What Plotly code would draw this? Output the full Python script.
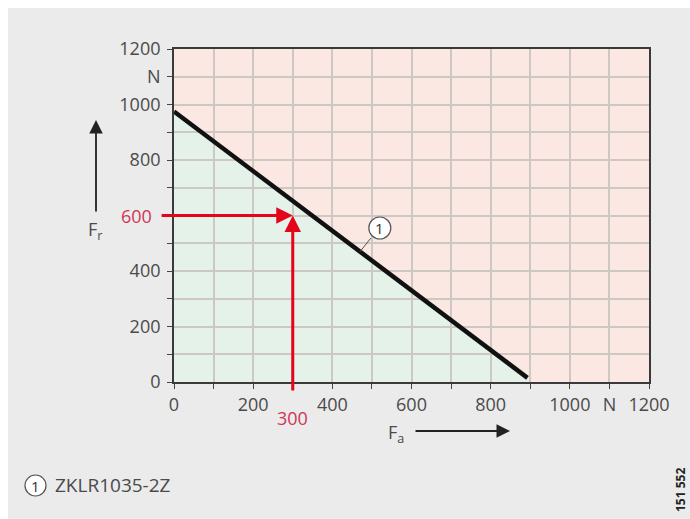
import plotly.graph_objects as go

# Load limit curve for ZKLR1035-2Z: axial load Fa (N) vs. radial load Fr (N)
fa_curve = [0, 893]
fr_curve = [975, 15]

# Worked example
fa_example = 300
fr_example = 600

# Axis ticks (every 100 N, labels every 200 N, unit "N" at 1100)
tick_vals = list(range(0, 1300, 100))
x_tick_text = ["0", "", "200", "", "400", "", "600", "", "800", "", "1000", "N", "1200"]
y_tick_text = ["0", "", "200", "", "400", "", "", "", "800", "", "1000", "N", "1200"]

curve_name = "ZKLR1035-2Z"
drawing_no = "151 552"

W, H = 690, 519
L, R, T, B = 174, 41, 49, 137
PW, PH = W - L - R, H - T - B


def px_x(p):
    return (p - L) / PW


def px_y(p):
    return (H - B - p) / PH


FONT = "Open Sans"
TXT = "#4a4a4a"
RED = "#e3061a"
RED_TXT = "#cf3557"
GRAY_BG = "#ebebeb"
PINK = "#fbe8e3"
GREEN = "#e4f2ea"

fig = go.Figure()

fig.add_trace(go.Scatter(
    x=fa_curve, y=fr_curve, mode="lines",
    line=dict(color="#111111", width=4.5),
    hoverinfo="skip", showlegend=False,
))

shapes = []
# white frame strips around the grey panel
shapes.append(dict(type="rect", xref="paper", yref="paper",
                   x0=px_x(0), x1=px_x(W), y0=px_y(0), y1=px_y(8),
                   fillcolor="white", line=dict(width=0), layer="below"))
shapes.append(dict(type="rect", xref="paper", yref="paper",
                   x0=px_x(0), x1=px_x(8), y0=px_y(0), y1=px_y(H),
                   fillcolor="white", line=dict(width=0), layer="below"))

# permissible region under the curve
green_path = (f"M {fa_curve[0]},0 L {fa_curve[0]},{fr_curve[0]} "
              f"L {fa_curve[1]},{fr_curve[1]} L {fa_curve[1]},0 Z")
shapes.append(dict(type="path", xref="x", yref="y", path=green_path,
                   fillcolor=GREEN, line=dict(width=0), layer="below"))

# curve marker circle
slope = (fr_curve[1] - fr_curve[0]) / (fa_curve[1] - fa_curve[0])
lead_x = 470
lead_y = fr_curve[0] + slope * (lead_x - fa_curve[0])
circ_x, circ_y = 520, 555
shapes.append(dict(type="circle", xref="x", yref="y",
                   xsizemode="pixel", ysizemode="pixel",
                   xanchor=circ_x, yanchor=circ_y,
                   x0=-11, x1=11, y0=-11, y1=11,
                   fillcolor="white", line=dict(color="#555555", width=1.2)))

# legend circle
shapes.append(dict(type="circle", xref="paper", yref="paper",
                   x0=px_x(25), x1=px_x(46), y0=px_y(496), y1=px_y(475),
                   fillcolor="white", line=dict(color="#555555", width=1.2)))


def label(x, y, text, size, color, xref="paper", yref="paper", **kw):
    d = dict(x=x, y=y, xref=xref, yref=yref, text=text, showarrow=False,
             xanchor="center", yanchor="middle",
             font=dict(family=FONT, size=size, color=color))
    d.update(kw)
    return d


annotations = []
# red example arrows (horizontal from Fr, vertical from Fa)
annotations.append(dict(x=fa_example, y=fr_example, xref="x", yref="y",
                        ax=-35, ay=fr_example, axref="x", ayref="y",
                        text="", showarrow=True, arrowhead=2, arrowsize=1.1,
                        arrowwidth=3, arrowcolor=RED, standoff=0))
annotations.append(dict(x=fa_example, y=fr_example, xref="x", yref="y",
                        ax=fa_example, ay=-36, axref="x", ayref="y",
                        text="", showarrow=True, arrowhead=2, arrowsize=1.1,
                        arrowwidth=3, arrowcolor=RED, standoff=0))
annotations.append(label(px_x(136), fr_example, str(fr_example), 18, RED_TXT,
                         yref="y"))
annotations.append(label(fa_example, px_y(418), str(fa_example), 18, RED_TXT,
                         xref="x"))

# curve label with leader line
annotations.append(dict(x=lead_x, y=lead_y, xref="x", yref="y",
                        ax=12, ay=-15, text="", showarrow=True, arrowhead=0,
                        arrowwidth=1, arrowcolor="#555555", standoff=0))
annotations.append(label(circ_x, circ_y, "1", 15, "#333333",
                         xref="x", yref="y"))

# axis quantity arrows and labels
annotations.append(dict(x=px_x(96), y=px_y(120), xref="paper", yref="paper",
                        ax=0, ay=93, text="", showarrow=True, arrowhead=2,
                        arrowsize=1.5, arrowwidth=1.8, arrowcolor="#222222",
                        standoff=0))
annotations.append(label(px_x(95), px_y(230), "F<sub>r</sub>", 18, TXT))
annotations.append(dict(x=px_x(510), y=px_y(431), xref="paper", yref="paper",
                        ax=-96, ay=0, text="", showarrow=True, arrowhead=2,
                        arrowsize=1.5, arrowwidth=1.8, arrowcolor="#222222",
                        standoff=0))
annotations.append(label(px_x(396), px_y(433), "F<sub>a</sub>", 18, TXT))

# legend entry
annotations.append(label(px_x(35.5), px_y(485.5), "1", 15, "#333333"))
annotations.append(label(px_x(53), px_y(485), curve_name, 19, TXT,
                         xanchor="left"))

# drawing number
annotations.append(label(px_x(680), px_y(490), f"<b>{drawing_no}</b>", 12,
                         "#222222", textangle=-90))

axis_common = dict(
    range=[0, 1200], tickvals=tick_vals, showgrid=True,
    gridcolor="#cdc8c3", gridwidth=1.6, zeroline=False,
    showline=True, linecolor="#3a3a3a", linewidth=1.8, mirror=True,
    ticks="outside", ticklen=5, tickcolor="#444444", tickwidth=1.2,
    tickfont=dict(family=FONT, size=18, color=TXT), fixedrange=True,
)

fig.update_layout(
    width=W, height=H,
    margin=dict(l=L, r=R, t=T, b=B),
    paper_bgcolor=GRAY_BG, plot_bgcolor=PINK,
    xaxis=dict(axis_common, ticktext=x_tick_text),
    yaxis=dict(axis_common, ticktext=y_tick_text, ticklabelstandoff=3),
    shapes=shapes, annotations=annotations,
    showlegend=False,
)

fig.write_html("out.html")
